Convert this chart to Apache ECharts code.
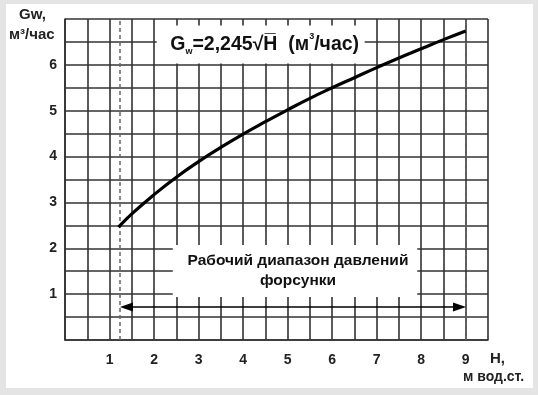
<!DOCTYPE html>
<html><head><meta charset="utf-8">
<script src="https://cdn.jsdelivr.net/npm/echarts@6/dist/echarts.min.js"></script>
<style>
html,body{margin:0;padding:0;background:#e4e4e4;}
#wrap{position:relative;width:538px;height:395px;background:#e4e4e4;}
#chart{position:absolute;left:6px;top:4px;width:527px;height:384px;background:#fff;}
</style></head>
<body><div id="wrap"><div id="chart"></div></div>
<script>
// Data
const hValues = [1.2, 1.5, 2, 2.5, 3, 3.5, 4, 4.5, 5, 5.5, 6, 6.5, 7, 7.5, 8, 8.5, 9];
const gValues = [2.46, 2.75, 3.17, 3.55, 3.89, 4.20, 4.49, 4.76, 5.02, 5.27, 5.50, 5.72, 5.94, 6.15, 6.35, 6.55, 6.74];
const xTickLabels = [1, 2, 3, 4, 5, 6, 7, 8, 9];
const yTickLabels = [1, 2, 3, 4, 5, 6];
const rangeStart = 1.24, rangeEnd = 9;
const arrowLevel = 0.72;
const formulaBox = [[2.06, 6.03], [6.73, 6.86]];
const rangeBox = [[2.42, 0.94], [7.91, 2.07]];
const rangeText = 'Рабочий диапазон давлений\nфорсунки';

const FONT = '"Liberation Sans", Arial, sans-serif';
const GRID = '#333';
const chart = echarts.init(document.getElementById('chart'), null, {renderer: 'canvas'});
chart.setOption({
  animation: false,
  grid: {left: 59, top: 15, width: 423, height: 321, show: false},
  xAxis: {
    type: 'value', min: 0, max: 9.5, interval: 0.5,
    axisLine: {show: true, lineStyle: {color: GRID, width: 1.6}},
    axisTick: {show: false},
    splitLine: {show: true, lineStyle: {color: GRID, width: 1.6}},
    axisLabel: {
      margin: 13, fontFamily: FONT, fontWeight: 'bold', fontSize: 14, color: '#222',
      formatter: v => xTickLabels.includes(v) ? String(v) : ''
    }
  },
  yAxis: {
    type: 'value', min: 0, max: 7, interval: 0.5,
    axisLine: {show: true, lineStyle: {color: GRID, width: 1.6}},
    axisTick: {show: false},
    splitLine: {show: true, lineStyle: {color: GRID, width: 1.6}},
    axisLabel: {
      margin: 8, fontFamily: FONT, fontWeight: 'bold', fontSize: 14, color: '#222',
      formatter: v => yTickLabels.includes(v) ? String(v) : ''
    }
  },
  series: [{
    type: 'line', smooth: true, symbol: 'none',
    data: hValues.map((h, i) => [h, gValues[i]]),
    lineStyle: {color: '#000', width: 3.2},
    z: 5,
    markArea: {
      silent: true,
      itemStyle: {color: '#fff'},
      data: [
        [{coord: formulaBox[0], label: {
            show: true, position: 'inside', offset: [4, 0],
            formatter: '{g|G}{sub|w}{g|=2,245√H̅  (м}{sup|3}{g|/час)}',
            rich: {
              g: {fontFamily: FONT, fontWeight: 'bold', fontSize: 19.5, color: '#111', lineHeight: 24},
              sub: {fontFamily: FONT, fontWeight: 'bold', fontSize: 9, color: '#111', lineHeight: 9, verticalAlign: 'bottom'},
              sup: {fontFamily: FONT, fontWeight: 'bold', fontSize: 9, color: '#111', lineHeight: 9, verticalAlign: 'top'}
            }
          }}, {coord: formulaBox[1]}],
        [{coord: rangeBox[0], label: {
            show: true, position: 'inside', offset: [3, 0],
            formatter: rangeText, fontFamily: FONT, fontWeight: 'bold', fontSize: 15.5,
            lineHeight: 20, color: '#111', align: 'center'
          }}, {coord: rangeBox[1]}]
      ]
    },
    markLine: {
      silent: true, symbol: 'none', animation: false,
      label: {show: false},
      data: [
        [{coord: [rangeStart, 0], lineStyle: {color: '#666', width: 1.5, type: [4, 3]}}, {coord: [rangeStart, 7]}],
        [{coord: [rangeEnd, 0], lineStyle: {color: '#666', width: 1.5, type: [4, 3]}}, {coord: [rangeEnd, 7]}],
        [{coord: [rangeStart + 0.14, arrowLevel], symbol: 'triangle', symbolSize: [9, 13],
          lineStyle: {color: '#000', width: 1.5, type: 'solid'}},
         {coord: [rangeEnd - 0.14, arrowLevel], symbol: 'triangle', symbolSize: [9, 13]}]
      ]
    }
  }],
  graphic: [
    {type: 'text', left: 19 - 6, top: 7 - 4, style: {text: 'Gw,', font: 'bold 15px ' + FONT, fill: '#222'}},
    {type: 'text', left: 9 - 6, top: 27 - 4, style: {text: 'м³/час', font: 'bold 15px ' + FONT, fill: '#222'}},
    {type: 'text', left: 490 - 6, top: 351 - 4, style: {text: 'Н,', font: 'bold 15px ' + FONT, fill: '#222'}},
    {type: 'text', left: 463 - 6, top: 370 - 4, style: {text: 'м вод.ст.', font: 'bold 14px ' + FONT, fill: '#222'}}
  ]
});
</script></body></html>
